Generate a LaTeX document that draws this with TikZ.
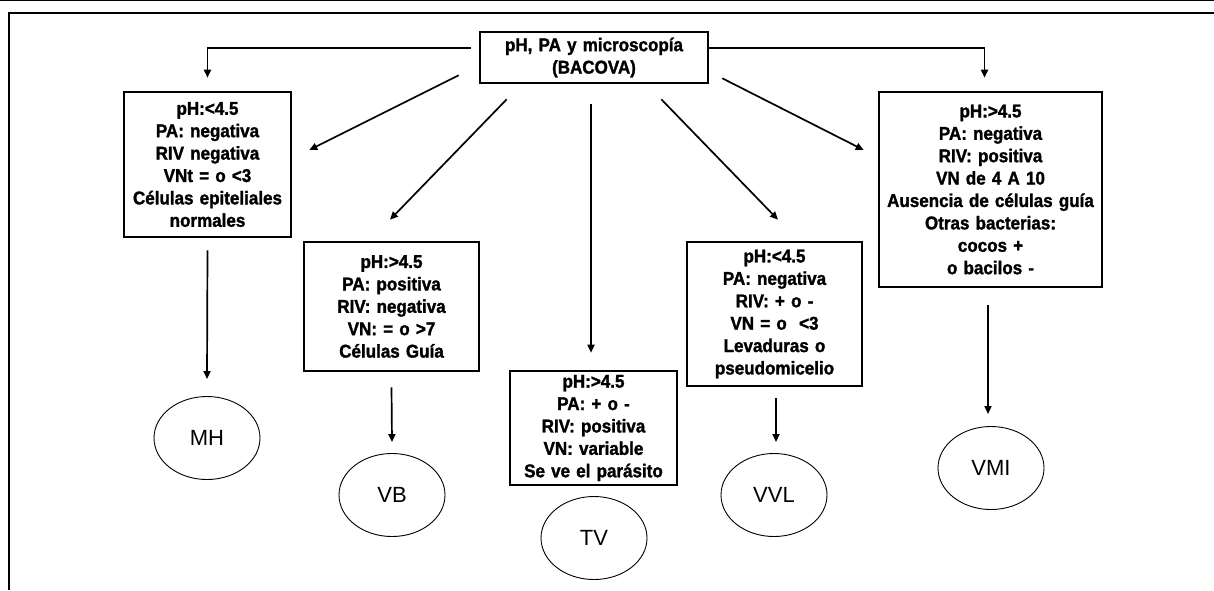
\documentclass[tikz,border=0pt]{standalone}
\usepackage{fontspec}
\setmainfont{Liberation Sans}
\newfontfamily\estrecha[FakeStretch=0.92,BoldFeatures={FakeBold=1.5}]{Liberation Sans}
\usepackage{tikz}
\usetikzlibrary{shapes.geometric,arrows.meta,positioning,calc}
\tikzstyle{caja}=[draw, line width=2.6pt, inner sep=0pt, align=center, font=\estrecha\fontsize{18.5}{22.4}\selectfont\bfseries]
\tikzstyle{diag}=[draw, ellipse, line width=0.9pt, inner sep=0pt, minimum width=106pt, minimum height=83pt, font=\fontsize{22}{26}\selectfont]
\tikzstyle{flecha}=[-{Triangle[length=8pt,width=7pt]}, line width=1.7pt]

\begin{document}
\begin{tikzpicture}[x=1pt,y=-1pt]
\useasboundingbox (0,0) rectangle (1214,590);

% marco
\draw[line width=1.5pt] (0,0.7) -- (1214,0.7);
\draw[line width=2.4pt] (9,590) -- (9,13) -- (1214,13);

% pruebas
\node[caja, text width=228pt, minimum height=51pt] (pruebas) at (594,57.5) {pH, PA y microscopía\\(BACOVA)};

% cajas
\node[caja, text width=167pt, minimum height=145pt] (bMH) at (207.5,164.5) {pH:<4.5\\PA: negativa\\RIV negativa\\VNt = o <3\\Células epiteliales\\normales};
\node[caja, text width=175pt, minimum height=129pt] (bVB) at (391.5,306.5) {pH:>4.5\\PA: positiva\\RIV: negativa\\VN: = o >7\\Células Guía};
\node[caja, text width=167pt, minimum height=114pt] (bTV) at (593.5,428) {pH:>4.5\\PA: + o -\\RIV: positiva\\VN: variable\\Se ve el parásito};
\node[caja, text width=175pt, minimum height=144pt] (bVVL) at (774.5,314) {pH:<4.5\\PA: negativa\\RIV: + o -\\VN = o \ <3\\Levaduras o\\pseudomicelio};
\node[caja, text width=223pt, minimum height=195pt] (bVMI) at (990.5,189.5) {pH:>4.5\\PA: negativa\\RIV: positiva\\VN de 4 A 10\\Ausencia de células guía\\Otras bacterias:\\cocos +\\o bacilos -};

% diagnosticos
\node[diag] (eMH) at (207,438) {MH};
\node[diag] (eVB) at (392,495) {VB};
\node[diag] (eTV) at (594,538) {TV};
\node[diag] (eVVL) at (774,495) {VVL};
\node[diag] (eVMI) at (991,468) {VMI};

% flechas
\draw[flecha] ($(pruebas.north west)+(-8,17)$) -| ($(bMH.north)+(0,-13)$);
\draw[flecha] ($(pruebas.north east)+(0,17)$) -| ($(bVMI.north)+(-6,-13)$);
\draw[flecha] ($(pruebas.south west)+(-20,-9)$) -- ($(bMH.east)+(17,-14.5)$);
\draw[flecha] ($(pruebas.south west)+(28,15)$) -- ($(bVB.north)+(-1.5,-21)$);
\draw[flecha] ($(pruebas.south)+(-3,20)$) -- ($(bTV.north)+(-2.5,-17)$);
\draw[flecha] ($(pruebas.south east)+(-48,15)$) -- ($(bVVL.north)+(3.5,-21)$);
\draw[flecha] ($(pruebas.south east)+(13,-6)$) -- ($(bVMI.west)+(-14,-39.5)$);

\draw[flecha] ($(bMH.south)+(0,12)$) -- ($(eMH.north)+(0,-17)$);
\draw[flecha] ($(bVB.south)+(0,15)$) -- ($(eVB.north)+(0,-11)$);
\draw[flecha] ($(bVVL.south)+(1.5,11)$) -- ($(eVVL.north)+(2,-11)$);
\draw[flecha] ($(bVMI.south)+(-2.5,17)$) -- ($(eVMI.north)+(-3,-12)$);

\end{tikzpicture}
\end{document}
